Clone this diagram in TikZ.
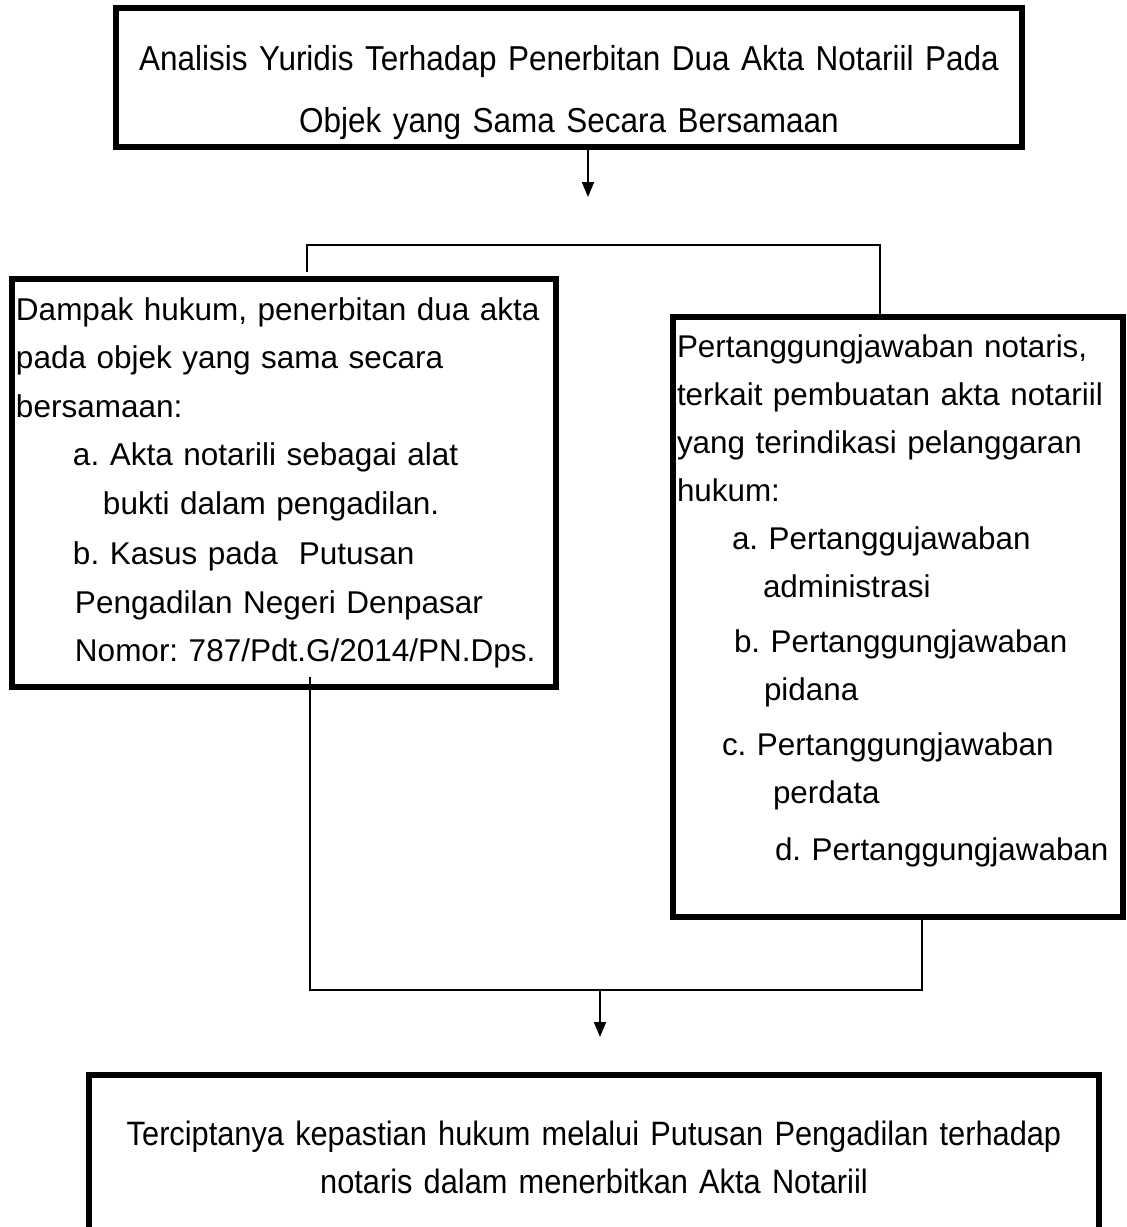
\documentclass[tikz,border=0pt]{standalone}
\usepackage{fontspec}
\setmainfont{Liberation Sans}
\newfontfamily\boxfont{Liberation Sans}
\newfontfamily\headfont[FakeStretch=0.91]{Liberation Sans}
\usetikzlibrary{arrows.meta,positioning}
\frenchspacing
\tikzset{
  thickbox/.style={draw,line width=5.5pt,inner xsep=4pt,inner ysep=0pt},
  link/.style={line width=1.8pt},
  arr/.style={link,-{Triangle[length=15pt,width=12pt]}}
}
\begin{document}
\begin{tikzpicture}[x=1pt,y=-1pt,line cap=butt]
  \useasboundingbox (0,0) rectangle (1127,1227);
  \node[thickbox,minimum width=906pt,minimum height=139pt,text width=898pt,align=center,
    font=\headfont\fontsize{34.6}{62}\selectfont] (judul) at (569,77.5)
    {\rule{0pt}{55pt}Analisis Yuridis Terhadap Penerbitan Dua Akta Notariil Pada\\Objek yang Sama Secara Bersamaan};
  \node[thickbox,minimum width=544pt,minimum height=408pt,text width=536pt,align=left,
    font=\boxfont\fontsize{31.5}{48.5}\selectfont] (dampak) at (284,483)
    {Dampak hukum, penerbitan dua akta\\
     pada objek yang sama secara\\
     bersamaan:\\
     \hspace*{57pt}a. Akta notarili sebagai alat\\
     \hspace*{87pt}bukti dalam pengadilan.\\[2pt]
     \hspace*{57pt}b. Kasus pada\ \ Putusan\\
     \hspace*{59pt}Pengadilan Negeri Denpasar\\
     \hspace*{59pt}Nomor: 787/Pdt.G/2014/PN.Dps.};
  \node[thickbox,minimum width=450pt,minimum height=600pt,text width=442pt,align=left,
    font=\boxfont\fontsize{31.4}{48}\selectfont] (tanggung) at (898,617)
    {Pertanggungjawaban notaris,\\
     terkait pembuatan akta notariil\\
     yang terindikasi pelanggaran\\
     hukum:\\
     \hspace*{55pt}a. Pertanggujawaban\\
     \hspace*{86pt}administrasi\\[7pt]
     \hspace*{57pt}b. Pertanggungjawaban\\
     \hspace*{87pt}pidana\\[7pt]
     \hspace*{45pt}c. Pertanggungjawaban\\
     \hspace*{96pt}perdata\\[9pt]
     \hspace*{98pt}d. Pertanggungjawaban\rule[-38pt]{0pt}{1pt}};
  \node[thickbox,minimum width=1010pt,minimum height=165pt,text width=1002pt,align=center,
    font=\headfont\fontsize{33.8}{48}\selectfont] (hasil) at (594,1157.5)
    {Terciptanya kepastian hukum melalui Putusan Pengadilan terhadap\\notaris dalam menerbitkan Akta Notariil};
  \coordinate (a1) at (588,197); \draw[arr] (judul.south -| a1)--(a1);
  \coordinate (fl) at (307,272); \coordinate (fr) at (880,245);
  \draw[link] (fl) |- (fr)--(fr |- tanggung.north);
  \coordinate (jl) at (310,677); \coordinate (jr) at (922,990);
  \draw[link] (jl) |- (jr)--(jr |- tanggung.south);
  \coordinate (a2) at (600,1037); \draw[arr] (a2 |- jr)--(a2);
\end{tikzpicture}
\end{document}
